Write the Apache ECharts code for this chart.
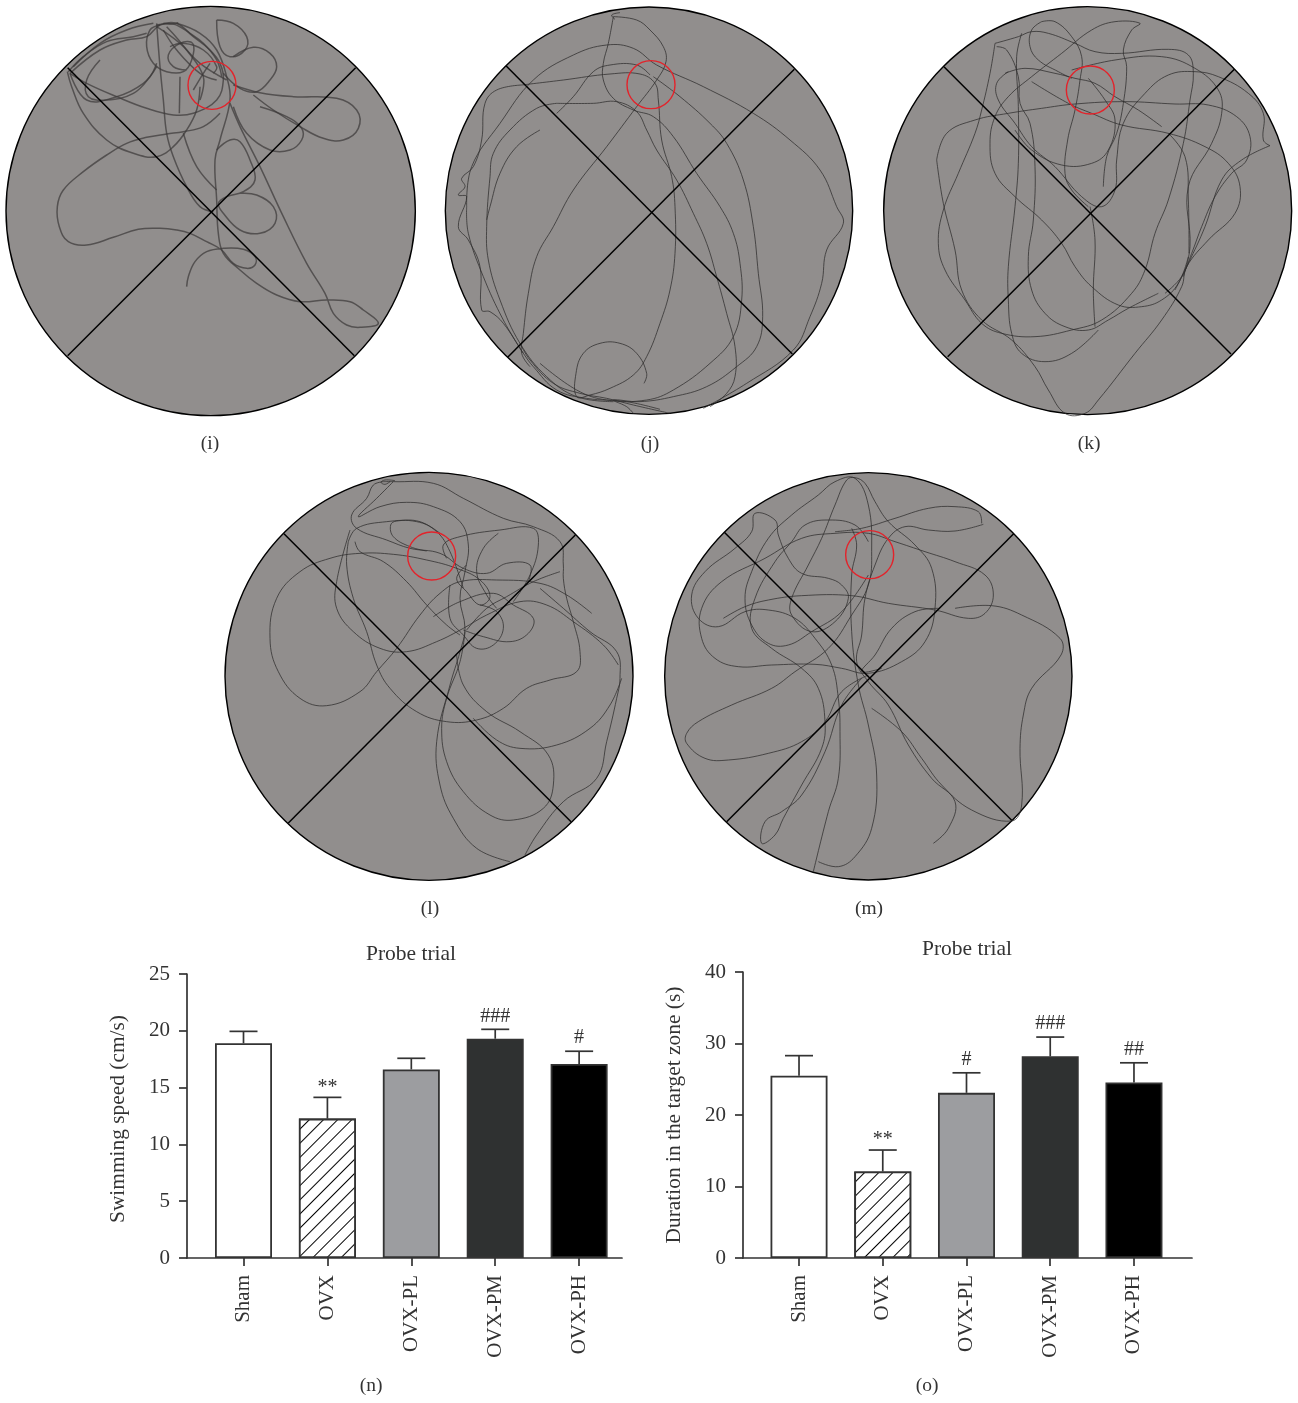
<!DOCTYPE html>
<html><head><meta charset="utf-8">
<style>html,body{margin:0;padding:0;background:#fff}#c{width:1298px;height:1403px}</style>
<script src="https://cdn.jsdelivr.net/npm/echarts@6/dist/echarts.min.js"></script>
</head><body><div id="c"></div>
<script>
// ---------- bar data ----------
const categories = ['Sham','OVX','OVX-PL','OVX-PM','OVX-PH'];
const speedMean  = [18.9,12.27,16.6,19.3,17.08];
const speedTop   = [19.95,14.14,17.58,20.13,18.2];
const speedMarks = ['','**','','###','#'];
const durMean    = [25.5,12.1,23.1,28.2,24.56];
const durTop     = [28.3,15.1,25.9,30.9,27.3];
const durMarks   = ['','**','#','###','##'];
const speedTicks = {min:0,max:25,interval:5};
const durTicks   = {min:0,max:40,interval:10};

// ---------- maze panels: traced points, in 3x crop units ----------
const pathsI = [
[[560,860],[565,830],[585,785],[620,755],[670,745],[730,748],[765,770],[765,795],[740,805],[700,790],[665,750],[620,725],[570,700],[530,690],[480,685],[415,688],[340,712],[260,735],[205,725],[178,680],[172,620],[190,570],[250,515],[320,465],[380,430],[440,412],[500,402],[550,395],[610,380],[660,340]],
[[202,215],[215,260],[250,340],[320,420],[400,460],[470,470],[520,440],[560,390],[590,330],[600,260]],
[[210,220],[300,150],[380,120],[440,110],[480,75],[530,70],[580,110],[630,150],[660,190],[670,240],[650,300],[580,340],[520,345],[440,325],[350,290],[260,250],[210,220]],
[[480,75],[450,90],[440,140],[460,190],[500,215],[550,215],[575,180],[578,130],[540,130],[505,165],[520,200],[560,210]],
[[470,70],[480,200],[490,300],[500,400],[520,470],[560,560],[600,620],[640,635]],
[[530,70],[600,100],[650,150],[680,230],[690,300],[660,420],[645,480],[650,600],[655,700],[670,760],[720,810],[770,850],[830,885],[900,905],[980,900],[1050,905],[1090,930],[1135,970],[1080,982],[1040,975],[1000,940],[975,880],[920,790],[850,650],[780,500],[720,380],[690,310]],
[[650,60],[700,70],[740,110],[735,150],[690,170],[660,140],[650,60]],
[[700,170],[760,142],[810,160],[830,200],[810,240],[770,275],[720,265],[670,220]],
[[700,255],[780,278],[880,290],[1010,295],[1070,330],[1075,385],[1030,420],[970,415],[900,380],[820,330],[760,285]],
[[700,320],[740,400],[810,450],[870,450],[905,420],[905,385],[860,350],[780,320]],
[[650,450],[690,420],[720,425],[750,480],[765,540],[730,575],[680,590],[655,610],[670,640],[720,690],[780,700],[825,670],[820,620],[770,585],[720,580]],
[[210,220],[260,300],[350,290],[430,250],[470,200]],
[[550,400],[590,500],[650,570]],
[[540,230],[538,340]],
[[500,80],[560,150],[610,230],[600,300]],
[[470,80],[540,130],[600,190],[680,240]],
[[470,75],[520,72],[570,100],[610,130],[650,180],[665,230]],
[[440,100],[400,110],[320,125],[250,170],[205,215]],
[[460,70],[380,90],[300,130],[220,200]],
[[300,180],[260,240],[265,290],[320,300],[400,280],[450,230],[470,190]],
[[490,90],[530,150],[600,220],[650,240]],
[[510,140],[550,130],[610,150],[650,200],[640,220]],
[[580,270],[610,220],[630,190]],
[[490,70],[510,72],[535,68]]
];
const pathsJ = [
[[520,50],[590,60],[630,90],[670,140],[678,185],[650,240],[590,320],[500,440],[400,570],[340,680],[290,770],[265,880],[250,1000],[245,1060],[270,1100]],
[[520,50],[505,130],[490,190],[490,240],[520,295],[580,330],[640,350],[700,410],[770,520],[840,620],[880,700],[900,790],[905,900],[880,1010],[810,1090],[700,1170],[620,1200],[500,1200],[410,1170],[300,1090]],
[[350,310],[460,310],[530,305],[590,335],[620,390],[650,450],[710,540],[760,640],[800,730],[830,830],[860,940],[885,1040],[885,1130],[860,1180],[810,1220]],
[[350,310],[290,325],[210,390],[160,460],[150,530],[140,680],[145,780],[180,900],[240,1030],[320,1130],[410,1190],[520,1205]],
[[245,255],[370,240],[510,222],[600,222],[645,250],[655,300],[665,420],[695,530],[705,620],[705,760],[690,870],[660,970],[620,1070],[580,1125],[510,1165],[450,1185],[410,1190],[408,1120],[430,1060],[480,1030],[540,1030],[590,1060],[620,1120],[612,1150]],
[[245,255],[170,270],[135,310],[125,420],[100,500],[65,535],[75,560],[55,585],[80,590],[55,680],[85,720],[120,800],[125,930],[150,935],[190,970],[250,1060],[280,1100],[350,1170],[440,1195],[560,1205],[660,1228]],
[[300,390],[230,440],[180,520],[150,620],[140,660]],
[[350,340],[400,290],[460,215],[510,195],[590,195],[630,225]],
[[80,620],[95,500],[180,370],[280,240],[400,165],[500,135],[580,145],[650,195],[790,260],[940,340],[1050,420],[1140,510],[1190,620],[1210,670],[1160,750],[1145,850],[1110,950],[1060,1050],[920,1150],[790,1225]],
[[80,620],[85,700],[130,830],[190,960],[250,1060]],
[[640,230],[720,290],[810,370],[860,430],[910,540],[940,680],[955,820],[968,950],[950,1040],[890,1100],[800,1160],[700,1190],[600,1205],[520,1200],[560,1220],[580,1240]],
[[240,1030],[270,1080],[340,1150],[420,1180],[500,1195],[580,1215],[690,1240]],
[[540,38],[515,45],[525,58]]
];
const pathsK = [
[[685,560],[695,470],[725,400],[745,310],[755,200],[745,150],[770,90],[795,70],[720,65],[650,90],[560,160],[470,230],[400,290],[360,350],[345,430],[360,520],[420,590],[500,660],[560,730],[600,800],[650,860],[730,915],[800,920],[860,900],[910,850],[940,770]],
[[390,220],[450,205],[540,220],[600,235],[660,250],[720,290],[790,330],[860,380]],
[[500,65],[540,65],[590,110],[620,170],[615,240],[600,330],[578,420],[570,520],[590,570],[640,620]],
[[500,65],[470,90],[465,140],[490,180],[550,215],[590,235]],
[[360,130],[430,110],[470,95],[520,100],[600,130],[660,155],[740,160],[880,148],[940,165],[955,220],[945,300],[925,430],[880,600],[840,700],[810,810],[770,880],[680,960],[590,990],[480,1010],[380,1000],[320,970],[270,900],[210,810],[190,730],[205,630],[250,520],[300,400],[320,330],[345,220],[360,130]],
[[365,140],[395,150],[430,230],[435,310],[465,370],[480,500],[475,660],[460,770],[470,870],[510,940],[570,980],[640,990],[700,960],[760,925],[850,880]],
[[440,100],[425,170],[430,320],[430,490],[420,620],[400,800],[400,900],[410,1000],[440,1060],[510,1085],[590,1060],[670,990]],
[[185,480],[205,610],[240,750],[260,870],[320,960],[410,1020],[480,1100],[520,1170],[570,1240],[630,1240],[670,1200],[780,1060],[860,960],[920,860],[935,800],[1000,720],[1080,640],[1095,560],[1060,490],[990,440],[880,400],[740,375],[650,340],[580,310],[470,245]],
[[185,480],[215,400],[300,360],[400,340],[500,325],[600,312],[750,305],[900,312],[1000,315],[1085,350],[1125,410],[1115,480],[1070,520],[1020,590],[980,680],[950,760],[920,830],[870,880]],
[[1185,437],[1165,420],[1165,340],[1120,280],[1030,230],[960,215],[880,225],[810,280],[745,370],[725,480],[720,570],[680,620],[620,590],[540,500],[470,440],[420,370],[370,300],[365,250],[400,215]],
[[640,235],[690,300],[720,360],[700,450],[650,490],[560,495],[470,450],[420,390]],
[[1185,437],[1100,480],[1040,540],[990,680],[940,790],[900,870]],
[[590,210],[720,180],[860,170],[960,205],[1030,270],[1040,340],[1010,430],[940,560],[945,740],[925,830]],
[[880,400],[930,470],[940,600],[942,760]],
[[645,620],[660,720],[655,870],[660,980]]
];
const pathsL = [
[[1115,445],[1040,390],[960,355],[830,345],[720,350],[660,385],[600,450],[530,550],[470,620],[420,680],[320,722],[240,700],[175,620],[150,520],[170,400],[240,320],[330,280],[420,265],[520,268],[620,285],[710,310],[780,345],[810,395],[780,420],[740,380],[710,340],[740,300]],
[[490,50],[520,50],[640,55],[730,100],[850,160],[940,185],[1020,230],[1030,300],[1030,340],[1040,400],[1060,470],[1080,560],[1070,620],[990,645],[920,670],[850,730],[770,765],[680,770],[590,740],[510,670],[470,600],[440,500],[400,400],[380,300],[385,230]],
[[520,50],[470,100],[415,155],[480,125],[560,112],[640,125],[720,170],[745,240],[735,320],[720,400],[735,490],[720,560],[690,660],[650,830],[660,960],[700,1060],[770,1150],[870,1190]],
[[490,50],[460,60],[440,100],[395,150],[410,190],[500,225],[570,250],[660,265],[730,310],[800,325],[860,295],[930,300],[925,350]],
[[390,195],[350,350],[350,430],[400,500],[480,550],[560,560],[650,530],[730,490],[800,450],[900,410],[980,420],[1060,470],[1150,540],[1195,600]],
[[660,205],[600,170],[530,168],[512,180],[520,215],[570,245],[620,258]],
[[640,455],[720,410],[820,385],[880,420],[940,460],[925,505],[870,530],[790,515],[730,495]],
[[385,230],[410,190],[500,170],[590,170],[650,200],[690,260],[730,370]],
[[690,360],[690,460],[730,510],[770,550],[820,540],[850,490],[830,440],[780,420]],
[[405,230],[420,260],[490,290],[560,350],[620,420],[680,480],[720,510]],
[[680,280],[670,240],[720,215],[840,195],[940,190],[955,240],[930,330],[880,410]],
[[835,205],[790,250],[770,320],[800,390],[830,430]],
[[710,570],[730,660],[800,740],[900,800],[985,870],[1000,960],[970,1030],[880,1065],[810,1050],[730,980],[680,890],[665,790],[680,700],[720,590],[735,500]],
[[915,1170],[950,1110],[1030,1010],[1130,940],[1160,830],[1190,700],[1200,640],[1190,560],[1110,500],[1030,430],[960,370]],
[[1205,640],[1170,720],[1110,790],[1010,840],[900,850],[830,825],[760,760]],
[[740,495],[800,430],[860,395],[940,350],[1020,320]],
[[525,47],[495,45],[483,52],[495,58],[510,50]]
];
const pathsM = [
[[205,460],[270,425],[340,405],[440,392],[590,392],[700,415],[840,435],[940,460],[990,445],[1015,390],[990,330],[900,290],[810,260],[720,230],[640,205],[540,205],[440,220],[330,280],[200,350],[140,430],[140,520],[180,580],[250,605],[350,600],[480,598],[560,610],[640,625],[740,590],[810,530],[840,430],[830,310],[780,240],[700,170],[660,110],[630,55],[600,38],[575,45],[540,120],[500,220],[460,300],[410,400],[410,450],[470,500],[540,470],[580,400],[560,360],[520,340],[440,325],[400,280],[370,210],[360,165],[300,145],[290,200],[240,250],[150,320],[110,390],[130,460],[190,485],[270,440],[340,435],[420,460],[480,520],[530,600],[550,700],[555,800],[550,940],[520,1040],[475,1220]],
[[490,1190],[550,1205],[600,1175],[650,1090],[665,930],[640,780],[610,660],[590,500],[590,330],[605,240],[590,190]],
[[980,175],[970,140],[900,125],[820,130],[720,160],[620,190],[540,200]],
[[985,178],[900,198],[820,195],[750,185],[700,220],[660,300],[630,400],[620,510],[605,590],[640,650],[700,720],[760,840],[830,940],[900,1010],[880,1090],[835,1135]],
[[640,630],[560,680],[510,770],[440,830],[340,865],[220,885],[150,880],[95,835],[95,805],[130,770],[230,720],[350,670],[420,620],[520,550],[590,450],[640,360],[650,260],[640,120],[600,40],[540,50],[490,90],[410,150],[340,220],[290,320],[270,400],[290,480],[340,535],[400,540],[470,500],[560,440],[640,330]],
[[620,640],[560,720],[510,860],[440,990],[380,1040],[330,1070],[320,1135],[360,1110],[385,1060],[440,960],[500,850],[510,770],[490,670],[440,610],[350,550],[290,490],[300,400],[360,290],[410,230],[450,180],[520,165],[600,180],[640,230]],
[[650,730],[740,800],[800,880],[860,960],[950,1035],[1070,1068],[1100,1020],[1095,850],[1105,750],[1130,670],[1218,570],[1215,520],[1100,450],[1010,422],[900,430]],
[[850,430],[780,440],[710,490],[660,570],[620,620],[680,610]]
];
const poolI=[632,633,614], targetI=[636,256,72], crossI=[[[203,203],[1063,1067]],[[203,1067],[1067,203]]];
const poolJ=[627,632,611], targetJ=[633,254,72], crossJ=[[[198,197],[1057,1062]],[[203,1072],[1063,208]]];
const poolK=[638,632,612], targetK=[646,270,72], crossK=[[[207,200],[1068,1062]],[[218,1070],[1078,208]]];
const poolL=[627,634,612], targetL=[635,273,72], crossL=[[[192,206],[1053,1070]],[[205,1074],[1066,210]]];
const poolM=[640,634,611], targetM=[644,269,72], crossM=[[[208,202],[1070,1066]],[[215,1070],[1076,206]]];

const FONT='"Liberation Serif"', INK='#333';
const grids=[],xAxes=[],yAxes=[],series=[];

function addPanel(box,pool,target,cross,paths,pathStyle){
  const g=grids.length;
  grids.push({left:box[0],top:box[1],width:box[2],height:box[3]});
  xAxes.push({type:'value',gridIndex:g,min:0,max:box[2]*3,show:false});
  yAxes.push({type:'value',gridIndex:g,min:0,max:box[3]*3,inverse:true,show:false});
  const ring=(c,style,z)=>({type:'custom',xAxisIndex:g,yAxisIndex:g,z,clip:false,silent:true,
    data:[c],encode:{x:0,y:1},
    renderItem:(p,api)=>{const o=api.coord([api.value(0),api.value(1)]);const r=api.size([api.value(2),0])[0];
      return {type:'circle',shape:{cx:o[0],cy:o[1],r},style};}});
  series.push(ring(pool,{fill:'#918e8d',stroke:'#000',lineWidth:1.4},1));
  paths.forEach(path=>series.push({type:'custom',xAxisIndex:g,yAxisIndex:g,z:2,clip:false,silent:true,
    data:path,encode:{x:0,y:1},
    renderItem:(p,api)=>{
      if(p.dataIndex!==path.length-1) return null;
      return {type:'polyline',shape:{points:path.map(q=>api.coord(q)),smooth:0.4},style:Object.assign({fill:'none'},pathStyle)};
    }}));
  cross.forEach(c=>series.push({type:'line',xAxisIndex:g,yAxisIndex:g,data:c,symbol:'none',z:3,silent:true,
    lineStyle:{color:'#000',width:1.5}}));
  series.push(ring(target,{fill:'none',stroke:'#e3232b',lineWidth:1.4},4));
}
const thin={stroke:'#2f2e2e',lineWidth:0.9,opacity:0.85};
addPanel([0,0,430,430],poolI,targetI,crossI,pathsI,{stroke:'#3a3838',lineWidth:1.5,opacity:0.7});
addPanel([440,0,430,430],poolJ,targetJ,crossJ,pathsJ,thin);
addPanel([875,0,423,430],poolK,targetK,crossK,pathsK,thin);
addPanel([220,465,425,425],poolL,targetL,crossL,pathsL,thin);
addPanel([655,465,425,425],poolM,targetM,crossM,pathsM,thin);

const fills=['#ffffff','#ffffff','#9c9da0','#2f3131','#000000'];
const hatch={symbol:'rect',color:'#000',backgroundColor:'#fff',dashArrayX:[1,0],dashArrayY:[1,9],rotation:-Math.PI/4};
const positions=categories.map((c,i)=>i+1);

function addBars(box,xr,ticks,name,mean,top,marks,nameGap,namePad){
  const g=grids.length;
  grids.push({left:box[0],top:box[1],width:box[2],height:box[3]});
  xAxes.push({type:'value',gridIndex:g,min:xr[0],max:xr[1],splitLine:{show:false},
    axisLine:{lineStyle:{color:INK,width:1.7}},
    axisTick:{show:true,customValues:positions,length:8,lineStyle:{color:INK,width:1.7}},
    axisLabel:{customValues:positions,rotate:90,margin:17,color:INK,fontFamily:FONT,fontSize:21,
      formatter:v=>categories[Math.round(v)-1]||''}});
  yAxes.push({type:'value',gridIndex:g,min:ticks.min,max:ticks.max,interval:ticks.interval,splitLine:{show:false},
    axisLine:{show:true,lineStyle:{color:INK,width:1.7}},
    axisTick:{show:true,length:8,lineStyle:{color:INK,width:1.7}},
    axisLabel:{margin:17,color:INK,fontFamily:FONT,fontSize:21},
    name,nameLocation:'center',nameGap,nameTextStyle:{color:INK,fontFamily:FONT,fontSize:21.4,padding:namePad}});
  series.push({type:'bar',xAxisIndex:g,yAxisIndex:g,barWidth:57,z:2,silent:true,
    data:mean.map((v,i)=>({value:[i+1,v],itemStyle:Object.assign({color:fills[i],borderColor:INK,borderWidth:1.8},i===1?{decal:hatch}:{})}))});
  series.push({type:'custom',xAxisIndex:g,yAxisIndex:g,z:3,silent:true,clip:false,
    data:mean.map((v,i)=>[i+1,v,top[i]]),encode:{x:0,y:2},
    renderItem:(p,api)=>{
      const a=api.coord([api.value(0),api.value(1)]),b=api.coord([api.value(0),api.value(2)]);
      const line={stroke:INK,lineWidth:1.7};
      const m=marks[p.dataIndex];
      return {type:'group',children:[
        {type:'line',shape:{x1:a[0],y1:a[1],x2:b[0],y2:b[1]},style:line},
        {type:'line',shape:{x1:b[0]-14,y1:b[1],x2:b[0]+14,y2:b[1]},style:line},
        {type:'text',style:{text:m,x:b[0],y:b[1]-(m==='**'?0:3),align:'center',verticalAlign:'bottom',
          font:'20px '+FONT,fill:INK}}
      ]};}});
}
addBars([187,974,435,284],[0.3266,5.511],speedTicks,'Swimming speed (cm/s)',speedMean,speedTop,speedMarks,58,[0,6,0,0]);
addBars([743,972,449,286],[0.331,5.693],durTicks,'Duration in the target zone (s)',durMean,durTop,durMarks,58,[0,0,0,0]);

const cap=(text,x,y,size)=>({text,left:x,top:y,textAlign:'center',textVerticalAlign:'middle',padding:0,
  textStyle:{fontFamily:FONT,fontWeight:'normal',fontSize:size||19.5,color:INK}});
const titles=[cap('(i)',210,444),cap('(j)',650,444),cap('(k)',1089,444),cap('(l)',430,909),cap('(m)',869,909),
  cap('(n)',371,1386),cap('(o)',927,1386),cap('Probe trial',411,954,21.5),cap('Probe trial',967,949,21.5)];

const chart=echarts.init(document.getElementById('c'),null,{renderer:'canvas',width:1298,height:1403});
chart.setOption({animation:false,backgroundColor:'#fff',title:titles,grid:grids,xAxis:xAxes,yAxis:yAxes,series});
</script></body></html>
